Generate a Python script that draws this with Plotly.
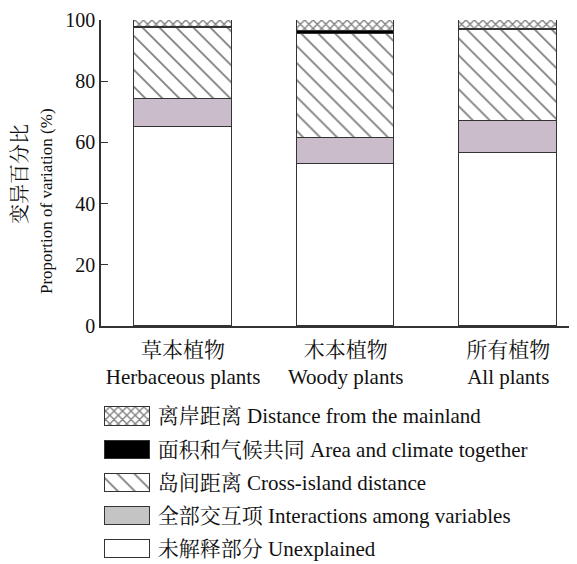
import plotly.graph_objects as go

# ---------------- data ----------------
categories = ["草本植物<br>Herbaceous plants", "木本植物<br>Woody plants", "所有植物<br>All plants"]
unexplained = [65.0, 52.9, 56.5]
interactions = [9.3, 8.7, 10.6]
cross_island = [23.1, 33.9, 29.6]
area_climate = [0.3, 0.9, 0.5]
distance_mainland = [2.3, 3.6, 2.8]

legend_labels = [
    "离岸距离 Distance from the mainland",
    "面积和气候共同 Area and climate together",
    "岛间距离 Cross-island distance",
    "全部交互项 Interactions among variables",
    "未解释部分 Unexplained",
]

FONT = "Liberation Serif, 'Noto Serif CJK SC', 'Noto Sans CJK SC', serif"
LINE = "#333333"
LAVENDER = "#cbbccb"

# the page body has an 8px margin; size the figure to fit the 577x564 window
OFF = 8
W, H = 577 - OFF, 564 - OFF
x_idx = [0, 1, 2]

fig = go.Figure()

def add_stack(vals, fill, pattern=None):
    mk = dict(color=fill, line=dict(color=LINE, width=1))
    if pattern:
        mk["pattern"] = pattern
    fig.add_trace(go.Bar(x=x_idx, y=vals, width=0.6, marker=mk, showlegend=False,
                         xaxis="x", yaxis="y"))

HATCH = dict(shape="\\", fgcolor="black", bgcolor="white", size=12, solidity=0.15)
CROSS = dict(shape="x", fgcolor="black", bgcolor="white", size=6, solidity=0.4)

add_stack(unexplained, "white")
add_stack(interactions, LAVENDER)
add_stack(cross_island, "white", HATCH)
add_stack(area_climate, "black")
add_stack(distance_mainland, "white", CROSS)

# ---------------- custom legend (swatches + text) ----------------
leg_fill = ["white", "black", "white", "#c4c4c4", "white"]
leg_pat = [CROSS, None, HATCH, None, None]
for i, lab in enumerate(legend_labels):
    mk = dict(color=leg_fill[i], line=dict(color=LINE, width=1))
    if leg_pat[i]:
        mk["pattern"] = leg_pat[i]
    fig.add_trace(go.Bar(
        y=[i], x=[1], orientation="h", width=0.55, marker=mk,
        text=[" " + lab], textposition="outside", cliponaxis=False,
        constraintext="none",
        textfont=dict(family=FONT, size=21, color="#111111"),
        showlegend=False, xaxis="x2", yaxis="y2", hoverinfo="skip"))

# pixel helpers (window pixels -> paper fraction)
def px_x(p):
    return (p - OFF) / W
def px_y(p):
    return 1 - (p - OFF) / H

ax_left, ax_bottom, ax_top = 101, 326, 20
x_lo, x_hi = -0.505, 2.473 - OFF / 159.5

# legend axes: swatch spans window x 105..150, rows centred at y 416.5 + 33.1*i
sw_l, sw_w = 105 - OFF, 45
row0, row_dy = 416.5 - OFF, 33.1
y2_top = -row0 / row_dy
y2_bot = y2_top + H / row_dy

fig.update_layout(
    width=W, height=H,
    margin=dict(l=0, r=0, t=0, b=0, autoexpand=False),
    paper_bgcolor="white", plot_bgcolor="rgba(0,0,0,0)",
    barmode="stack", bargap=0,
    font=dict(family=FONT, size=20, color="#111111"),
    showlegend=False,
    xaxis=dict(domain=[px_x(ax_left), 1], range=[x_lo, x_hi],
               tickvals=x_idx, ticktext=categories, ticks="",
               showline=True, linecolor=LINE, linewidth=1.5,
               showgrid=False, zeroline=False, fixedrange=True, automargin=False,
               ticklabelstandoff=4,
               tickfont=dict(size=21, family=FONT), anchor="y"),
    yaxis=dict(domain=[px_y(ax_bottom), px_y(ax_top)], range=[0, 100],
               tickvals=[0, 20, 40, 60, 80, 100], ticks="inside", ticklen=7,
               tickcolor=LINE, showline=True, linecolor=LINE, linewidth=1.5,
               showgrid=False, zeroline=False, anchor="x", automargin=False,
               tickfont=dict(size=20, family=FONT)),
    xaxis2=dict(domain=[0, 1], range=[-sw_l / sw_w, (W - sw_l) / sw_w], visible=False,
                anchor="y2", fixedrange=True, automargin=False),
    yaxis2=dict(domain=[0, 1], range=[y2_bot, y2_top], visible=False,
                anchor="x2", fixedrange=True, automargin=False),
    annotations=[
        dict(text="变异百分比", x=px_x(20), y=px_y(174), xref="paper", yref="paper",
             textangle=-90, showarrow=False, xanchor="center", yanchor="middle",
             font=dict(size=20, family=FONT)),
        dict(text="Proportion of variation (%)", x=px_x(46), y=px_y(201),
             xref="paper", yref="paper", textangle=-90, showarrow=False,
             xanchor="center", yanchor="middle", font=dict(size=17, family=FONT)),
    ],
)

fig.write_html("out.html")
